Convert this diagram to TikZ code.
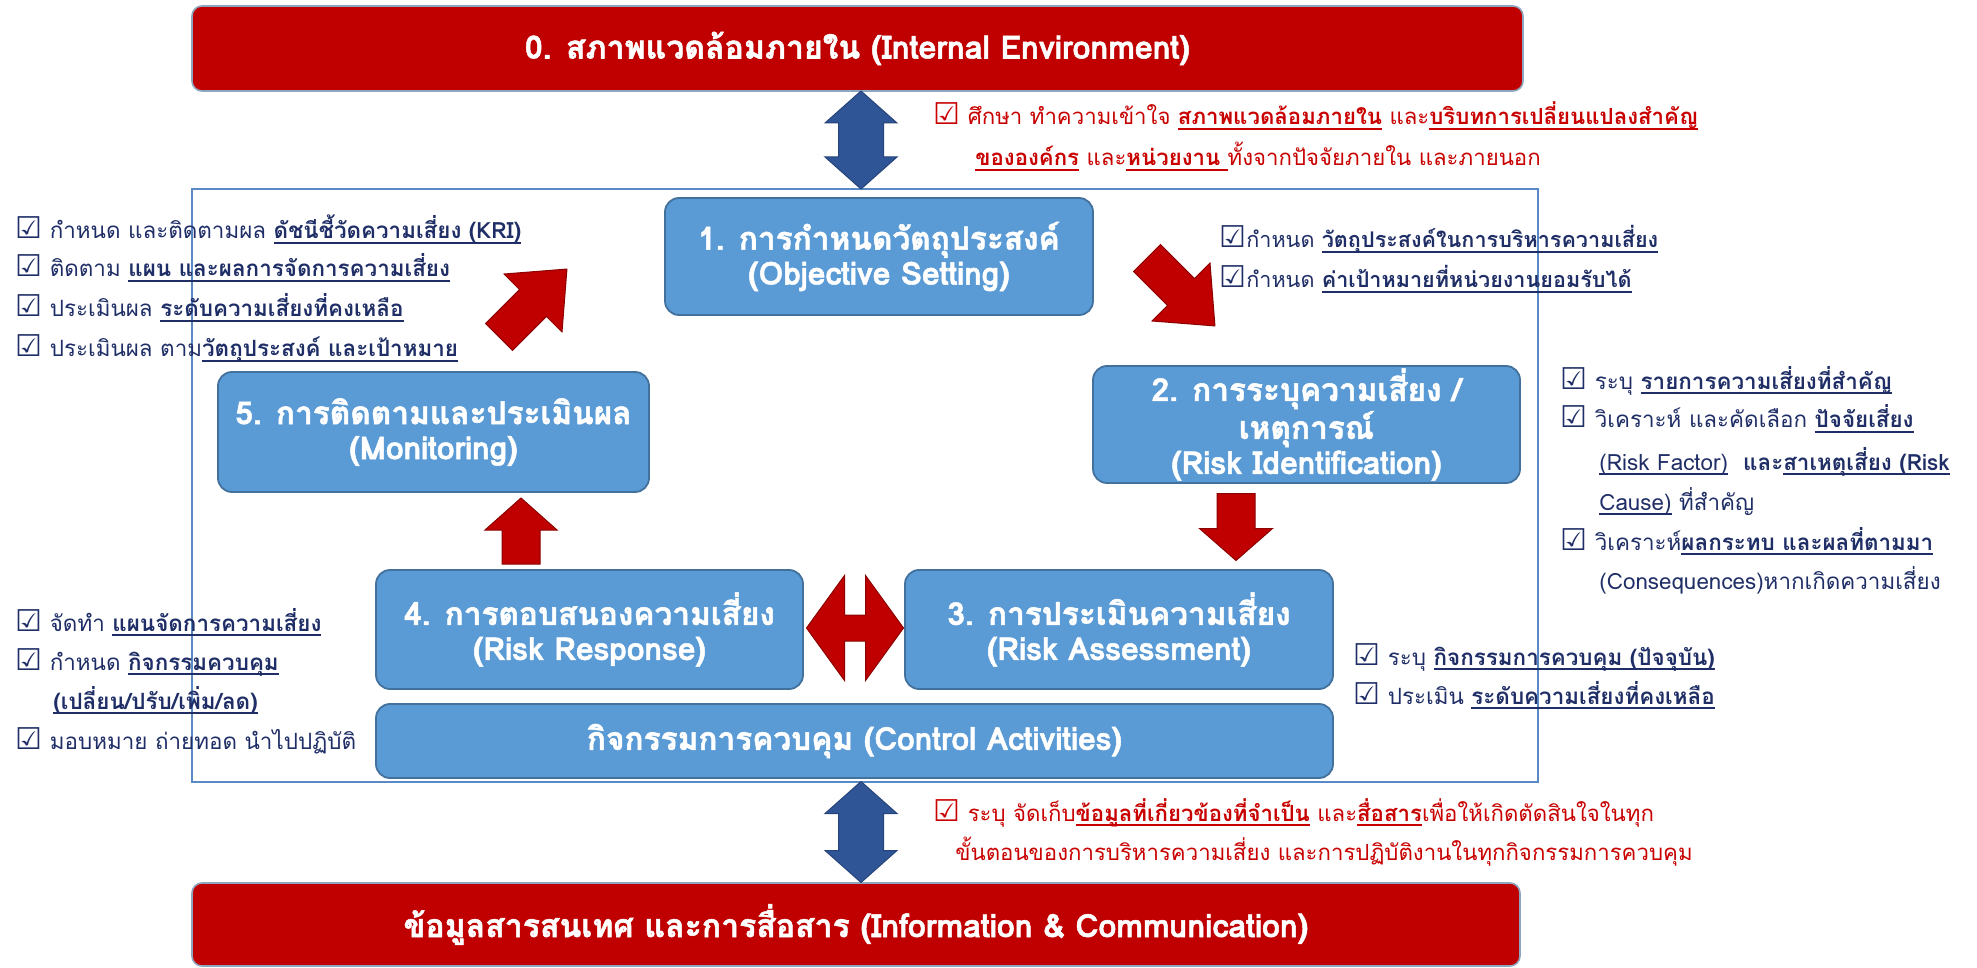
\documentclass[tikz,border=0pt]{standalone}
\usepackage{fontspec}
\setmainfont[Script=Thai]{Loma}
\newfontfamily\heavyfamily[Script=Thai, BoldFeatures={FakeBold=1.6}]{Loma}
\newfontfamily\symfont{DejaVu Sans}
\usetikzlibrary{calc}

\definecolor{barred}{HTML}{C00000}
\definecolor{barline}{HTML}{8FA6C0}
\definecolor{boxblue}{HTML}{5B9BD5}
\definecolor{boxedge}{HTML}{41719C}
\definecolor{navy}{HTML}{1F2E66}
\definecolor{notered}{HTML}{C80000}
\definecolor{arrowblue}{HTML}{2F5597}
\definecolor{framecol}{HTML}{5A8AC6}
\definecolor{arrowred}{HTML}{C00000}
\definecolor{arrowredline}{HTML}{8C0000}

% checkbox glyph
\newcommand\cbx{{\fontsize{15}{15}\symfont\char"2611}}
% underline at a fixed depth, so Thai marks below the line do not push it down
\newcommand\uln[1]{\setbox0=\hbox{#1}\rlap{\rule[-2.4pt]{\wd0}{0.7pt}}\box0\relax}
\newcommand\bu[1]{\uln{\bfseries #1}}

\newcommand\boxfont{\fontsize{15.8}{17.5}\heavyfamily\bfseries}
\newcommand\barfont{\fontsize{16}{17.5}\heavyfamily\bfseries}

% single block arrow: style, centre, angle, length, head width, shaft width, head length
\newcommand\blockarrow[7]{%
  \begin{scope}[shift={#2},rotate=#3]
    \filldraw[#1] ({-#4/2},{-#6/2}) -- ({#4/2-#7},{-#6/2}) -- ({#4/2-#7},{-#5/2})
      -- ({#4/2},0) -- ({#4/2-#7},{#5/2}) -- ({#4/2-#7},{#6/2}) -- ({-#4/2},{#6/2}) -- cycle;
  \end{scope}}
% double block arrow: same arguments
\newcommand\dblarrow[7]{%
  \begin{scope}[shift={#2},rotate=#3]
    \filldraw[#1] ({-#4/2},0) -- ({-#4/2+#7},{-#5/2}) -- ({-#4/2+#7},{-#6/2})
      -- ({#4/2-#7},{-#6/2}) -- ({#4/2-#7},{-#5/2}) -- ({#4/2},0)
      -- ({#4/2-#7},{#5/2}) -- ({#4/2-#7},{#6/2}) -- ({-#4/2+#7},{#6/2})
      -- ({-#4/2+#7},{#5/2}) -- cycle;
  \end{scope}}

\begin{document}
\begin{tikzpicture}[x=0.5pt,y=-0.5pt,
  bluebox/.style={draw=boxedge, line width=0.9pt, fill=boxblue, rounded corners=7pt,
    text=white, font=\boxfont, align=center, inner sep=0pt},
  redbar/.style={draw=barline, line width=0.8pt, fill=barred, rounded corners=5pt,
    text=white, font=\barfont, inner sep=0pt},
  sidetext/.style={anchor=base west, inner sep=0pt, text=navy,
    font=\fontsize{11.2}{14}\selectfont},
  objtext/.style={sidetext, font=\fontsize{10.8}{14}\selectfont},
  notetext/.style={anchor=base west, inner sep=0pt, text=notered,
    font=\fontsize{11.1}{14}\selectfont},
  redarrow/.style={fill=arrowred, draw=arrowredline, line width=0.5pt, line join=miter},
  bluearrow/.style={fill=arrowblue, draw=arrowblue!80!black, line width=0.5pt}
]
\useasboundingbox (0,0) rectangle (1977,968);

% frame round the cycle
\draw[framecol, line width=0.7pt] (192,189) rectangle (1538,782);

% environment bars
\node[redbar, minimum width=665.5pt, minimum height=42.5pt] (env) at (857.5,48.5)
  {0. สภาพแวดล้อมภายใน (Internal Environment)};
\node[redbar, minimum width=664pt, minimum height=41.5pt] (info) at (856,924.5)
  {ข้อมูลสารสนเทศ และการสื่อสาร (Information \& Communication)};

% the five steps and the control activities
\node[bluebox, minimum width=214pt, minimum height=58.5pt] (b1) at (879,256.5)
  {1. การกำหนดวัตถุประสงค์\\(Objective Setting)};
\node[bluebox, minimum width=213.5pt, minimum height=58.5pt] (b2) at (1306.5,424.5)
  {2. การระบุความเสี่ยง /\\เหตุการณ์\\(Risk Identification)};
\node[bluebox, minimum width=214pt, minimum height=59.5pt] (b3) at (1119,629.5)
  {3. การประเมินความเสี่ยง\\(Risk Assessment)};
\node[bluebox, minimum width=213.5pt, minimum height=59.5pt] (b4) at (589.5,629.5)
  {4. การตอบสนองความเสี่ยง\\(Risk Response)};
\node[bluebox, minimum width=215.5pt, minimum height=60pt] (b5) at (433.5,432)
  {5. การติดตามและประเมินผล\\(Monitoring)};
\node[bluebox, minimum width=478.5pt, minimum height=37pt] (bc) at (854.5,741)
  {กิจกรรมการควบคุม (Control Activities)};

% block arrows between the steps
\coordinate (a15) at (1181,292);
\coordinate (a23) at (1236,527);
\coordinate (a34) at (855,628);
\coordinate (a45) at (521,531);
\coordinate (a51) at (533,303);
\coordinate (aenv) at (861,140);
\coordinate (ainfo) at (861,832);
\blockarrow{redarrow}{(a15)}{-45}{96}{82}{38}{48}
\blockarrow{redarrow}{(a23)}{-90}{67}{73}{38}{32}
\dblarrow{redarrow}{(a34)}{0}{97}{105}{26}{38}
\blockarrow{redarrow}{(a45)}{90}{66}{72}{38}{32}
\blockarrow{redarrow}{(a51)}{45}{96}{82}{38}{48}
\dblarrow{bluearrow}{(aenv)}{90}{98}{72}{45}{32}
\dblarrow{bluearrow}{(ainfo)}{90}{101}{72}{45}{32}

% notes on the environment
\node[notetext] (tn1) at (933,125)
  {\cbx\ ศึกษา ทำความเข้าใจ \bu{สภาพแวดล้อมภายใน} และ\bu{บริบทการเปลี่ยนแปลงสำคัญ}};
\node[notetext] (tn2) at (975,166)
  {\bu{ขององค์กร} และ\bu{หน่วยงาน }ทั้งจากปัจจัยภายใน และภายนอก};

% notes on objective setting
\node[objtext] (on1) at (1219,248) {\cbx กำหนด \bu{วัตถุประสงค์ในการบริหารความเสี่ยง}};
\node[objtext] (on2) at (1219,288) {\cbx กำหนด \bu{ค่าเป้าหมายที่หน่วยงานยอมรับได้}};

% notes on monitoring
\node[sidetext] (mn1) at (15,239) {\cbx\ กำหนด และติดตามผล \bu{ดัชนีชี้วัดความเสี่ยง (KRI)}};
\node[sidetext] (mn2) at (15,277) {\cbx\ ติดตาม \bu{แผน และผลการจัดการความเสี่ยง}};
\node[sidetext] (mn3) at (15,317) {\cbx\ ประเมินผล \bu{ระดับความเสี่ยงที่คงเหลือ}};
\node[sidetext] (mn4) at (15,357) {\cbx\ ประเมินผล ตาม\bu{วัตถุประสงค์ และเป้าหมาย}};

% notes on risk identification
\node[sidetext] (in1) at (1560,389) {\cbx\ ระบุ \bu{รายการความเสี่ยงที่สำคัญ}};
\node[sidetext] (in2) at (1560,428) {\cbx\ วิเคราะห์ และคัดเลือก \bu{ปัจจัยเสี่ยง}};
\node[sidetext] (in3) at (1599,470) {\uln{(Risk Factor)}\ \ {\bfseries และ}\bu{สาเหตุเสี่ยง (Risk}};
\node[sidetext] (in4) at (1599,510) {\uln{Cause)} ที่สำคัญ};
\node[sidetext] (in5) at (1560,550) {\cbx\ วิเคราะห์\bu{ผลกระทบ และผลที่ตามมา}};
\node[sidetext] (in6) at (1599,589) {(Consequences)หากเกิดความเสี่ยง};

% notes on risk response
\node[sidetext] (rn1) at (15,631) {\cbx\ จัดทำ \bu{แผนจัดการความเสี่ยง}};
\node[sidetext] (rn2) at (15,670) {\cbx\ กำหนด \bu{กิจกรรมควบคุม}};
\node[sidetext] (rn3) at (53,709) {\bu{(เปลี่ยน/ปรับ/เพิ่ม/ลด)}};
\node[sidetext] (rn4) at (15,749) {\cbx\ มอบหมาย ถ่ายทอด นำไปปฏิบัติ};

% notes on risk assessment
\node[sidetext] (an1) at (1353,665) {\cbx\ ระบุ \bu{กิจกรรมการควบคุม (ปัจจุบัน)}};
\node[sidetext] (an2) at (1353,704) {\cbx\ ประเมิน \bu{ระดับความเสี่ยงที่คงเหลือ}};

% notes on information and communication
\node[notetext] (cn1) at (933,821)
  {\cbx\ ระบุ จัดเก็บ\bu{ข้อมูลที่เกี่ยวข้องที่จำเป็น}\ และ\bu{สื่อสาร}เพื่อให้เกิดตัดสินใจในทุก};
\node[notetext] (cn2) at (955,860)
  {ขั้นตอนของการบริหารความเสี่ยง และการปฏิบัติงานในทุกกิจกรรมการควบคุม};
\end{tikzpicture}
\end{document}
